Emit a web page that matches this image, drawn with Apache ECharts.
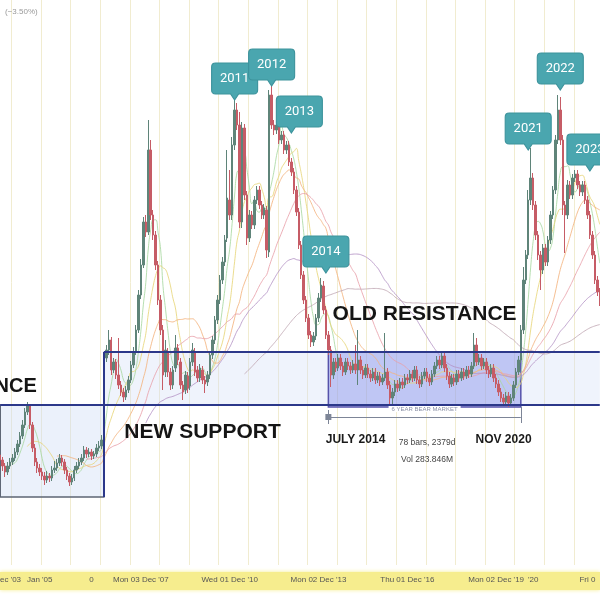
<!DOCTYPE html>
<html><head><meta charset="utf-8">
<script src="https://cdn.jsdelivr.net/npm/echarts@6/dist/echarts.min.js"></script>
<style>html,body{margin:0;padding:0;background:#fff}#c{width:600px;height:600px}</style>
</head><body><div id="c"></div>
<script>
// monthly bars, Mar 2003 .. Oct 2023
const categories = [];
for (let i = 0; i < 244; i++) { const k = 2 + i; categories.push((2003 + Math.floor(k / 12)) + '-' + String(k % 12 + 1).padStart(2, '0')); }

// [open, close, low, high]
const ohlc = [
[110,105,101,114],[105,99,94,108],[99,93,88,102],[93,99,90,103],[99,103,96,107],[103,107,100,111],[107,113,104,117],[113,121,110,125],[121,129,118,133],[129,140,126,145],
[140,153,137,157],[153,159,150,163],[159,140,136,161],[140,117,113,143],[117,103,99,121],[103,97,92,107],[97,93,89,101],[93,89,85,97],[89,85,80,93],[85,89,82,94],
[89,87,83,92],[87,95,84,99],[95,97,92,104],[97,102,94,106],[102,107,99,111],[107,103,99,110],[103,95,91,106],[95,89,85,98],[89,83,79,92],[83,87,80,91],
[87,95,84,99],[95,99,92,103],[99,103,96,107],[103,107,100,111],[107,115,104,119],[115,111,107,118],[111,113,108,117],[113,109,105,116],[109,111,106,114],[111,117,108,121],
[117,119,114,124],[119,125,116,130],
[125,207,120,212],[207,215,203,220],[215,225,210,235],[225,195,190,228],[195,203,192,207],[203,190,186,206],[190,180,176,227],[180,173,169,184],[173,168,163,177],[168,175,165,179],
[175,185,172,189],[185,200,182,204],[200,213,197,218],[213,235,210,240],[235,270,232,275],[270,300,266,306],[300,343,297,348],[343,333,328,350],[333,415,330,445],[415,350,345,425],
[350,330,325,355],[330,300,295,334],[300,265,260,304],[265,235,230,270],[235,190,175,240],[193,215,188,225],[213,193,188,217],[193,180,175,197],[180,195,176,199],[197,217,193,230],
[217,205,200,221],[203,180,176,207],[180,173,165,184],[175,190,171,194],[189,177,172,193],[179,203,175,207],[203,215,199,222],[213,193,189,217],[195,187,183,199],[187,197,183,201],
[195,185,181,199],[185,181,172,189],[183,190,179,194],[190,210,186,214],[210,225,206,229],[225,245,221,249],[245,265,241,270],[265,285,261,290],[285,303,281,308],[303,325,299,330],
[327,367,323,415],[365,350,345,395],[350,420,345,428],[420,455,415,465],
[455,440,435,462],[440,343,337,453],[343,437,337,443],[437,370,365,441],[370,327,320,374],[327,350,323,355],[350,340,336,354],[340,365,336,369],[365,375,361,379],[375,360,356,379],
[360,350,346,364],[350,357,346,361],[355,315,307,359],[313,470,308,475],[470,440,436,479],[440,435,430,445],[435,440,431,444],[438,425,421,442],[425,430,421,434],[430,415,411,434],
[415,420,411,424],[420,403,399,424],[403,393,389,407],[393,375,371,397],[375,353,349,379],[353,320,316,357],[320,290,286,324],[290,265,261,294],[265,247,243,269],[247,230,226,251],
[230,223,218,234],[223,229,219,233],[229,247,225,251],[247,267,243,272],[267,280,263,287],[279,255,251,284],[255,230,226,259],[230,215,210,234],
[215,190,178,219],[190,203,186,207],[203,197,193,207],[197,207,194,211],[207,199,195,211],[199,193,189,203],[193,203,190,207],[203,199,195,207],[199,195,191,203],[195,201,192,205],
[201,195,191,220],[195,205,180,235],[205,195,191,209],[195,190,186,199],[190,197,187,201],[197,191,187,201],[191,187,183,195],[187,193,184,197],[193,185,181,197],[185,189,182,193],
[189,183,179,193],[183,187,180,191],[187,193,184,232],[193,180,176,197],[180,167,160,184],[167,173,159,177],[173,181,169,185],[181,177,173,185],[177,183,174,187],[183,180,176,187],
[180,187,177,191],[187,185,181,191],[185,191,182,195],[191,187,183,195],[187,195,184,199],[195,185,181,199],[185,181,177,189],[181,189,178,193],[189,193,186,197],[193,187,183,197],
[187,183,179,191],[183,191,180,195],[191,199,188,203],[199,205,196,209],[205,200,196,209],[200,209,197,213],[209,197,193,212],[197,189,185,201],[189,181,177,193],[181,187,178,191],
[187,183,179,191],[183,191,180,195],[191,187,183,195],[187,193,184,197],[193,189,185,197],[189,195,186,199],[195,191,187,199],[191,199,188,203],[199,220,196,232],[220,203,199,227],
[203,207,200,211],[207,199,195,211],[199,203,196,207],[203,195,191,207],[195,191,187,199],[191,197,188,201],[197,187,183,201],[187,181,177,191],[181,173,169,185],[173,167,163,177],
[167,163,159,171],[163,169,160,173],[169,162,158,173],[162,167,159,171],[167,180,164,184],[180,193,177,197],[193,205,190,209],[205,235,202,240],
[235,285,231,298],[285,310,281,315],[310,365,306,375],[365,387,360,417],[387,360,355,392],[360,330,325,364],[330,310,305,334],[310,295,275,314],[295,317,291,321],[317,303,299,321],
[303,325,299,329],[325,350,321,354],[350,375,346,379],[375,425,371,430],[425,455,421,470],[455,425,420,468],[425,360,350,430],[360,350,312,364],[350,380,346,385],[380,370,366,384],
[370,387,366,391],[387,391,383,395],[391,380,376,395],[380,373,369,384],[373,380,369,384],[380,365,361,384],[365,350,346,369],[350,330,326,354],[330,310,306,334],[310,285,281,314],
[285,273,269,289],[273,263,259,277]
];

const tickIdx  = [3, 16, 37, 57, 93, 129, 165, 201, 216, 238];
const tickText = ["Dec '03", "Jan '05", "0", "Mon 03 Dec '07", "Wed 01 Dec '10", "Mon 02 Dec '13", "Thu 01 Dec '16", "Mon 02 Dec '19", "'20", "Fri 0"];

const maPeriods = [6, 12, 24, 36, 60, 100];
const maColors  = ['#a9d8a2', '#e8d67a', '#f3b47f', '#e9a1aa', '#b594c6', '#c2a9b5'];

// zones (index, price)
const supportLow = 160, supportHigh = 213, oldBoxBottom = 68, rangeBottom = 158;
const callouts = [
  {label: '2011', idx: 95,  price: 465, side: 'c'},
  {label: '2012', idx: 110, price: 479, side: 'c'},
  {label: '2013', idx: 118, price: 432, side: 'l'},
  {label: '2014', idx: 132, price: 292, side: 'c'},
  {label: '2021', idx: 214, price: 415, side: 'c'},
  {label: '2022', idx: 227, price: 475, side: 'c'},
  {label: '2023', idx: 239, price: 394, side: 'c'}
];

function sma(p) {
  return ohlc.map((_, i) => {
    if (i < p - 1) return null;
    let s = 0; for (let k = i - p + 1; k <= i; k++) s += ohlc[k][1];
    return +(s / p).toFixed(2);
  });
}

const bubbleC = 'path://M4,0L42,0Q46,0 46,4L46,27Q46,31 42,31L27,31L23,37L19,31L4,31Q0,31 0,27L0,4Q0,0 4,0Z';
const bubbleL = 'path://M4,0L42,0Q46,0 46,4L46,27Q46,31 42,31L19,31L15,37L11,31L4,31Q0,31 0,27L0,4Q0,0 4,0Z';

const font = 'Liberation Sans';
function txt(text, idx, price, size, weight, color, pos) {
  return {
    coord: [idx, price], symbol: 'rect', symbolSize: 1, itemStyle: {color: 'rgba(0,0,0,0)'},
    label: {show: true, formatter: text, position: pos || 'inside', distance: 0, fontSize: size, fontWeight: weight,
            color: color, fontFamily: font}
  };
}

const points = callouts.map(c => ({
  coord: [c.idx, c.price],
  symbol: c.side === 'l' ? bubbleL : bubbleC,
  symbolSize: [46, 37],
  symbolOffset: [c.side === 'l' ? 8 : 0, '-50%'],
  itemStyle: {color: '#4aa6af', borderColor: '#3d939c', borderWidth: 1},
  label: {show: true, formatter: c.label, color: '#fff', fontSize: 13, fontFamily: 'Roboto', offset: [0, -3], position: 'inside'}
}));
points.push(
  txt('OLD RESISTANCE', 172, 251, 21, 'bold', '#151515'),
  txt('NEW SUPPORT', 82, 133, 21, 'bold', '#151515'),
  txt('RESISTANCE', 15, 179, 20, 'bold', '#151515', 'left'),
  txt('JULY 2014', 144, 125, 12, 'bold', '#1a1a1a'),
  txt('NOV 2020', 204, 125, 12, 'bold', '#1a1a1a'),
  txt('78 bars, 2379d', 173, 122, 8.5, 'normal', '#444'),
  txt('Vol 283.846M', 173, 105, 8.5, 'normal', '#444')
);

const navy = {color: '#2c388a', width: 2, type: 'solid'};
const gray = {color: '#7d8597', width: 1, type: 'solid'};

const series = [
  {
    type: 'line', data: [], z: 1, silent: true,
    markArea: {
      silent: true,
      data: [
        [{xAxis: 0, yAxis: oldBoxBottom, itemStyle: {color: 'rgba(205,220,246,0.4)', borderColor: '#5d6574', borderWidth: 1.5}}, {xAxis: 42, yAxis: supportLow}],
        [{xAxis: 42, yAxis: supportLow, itemStyle: {color: 'rgba(208,220,246,0.35)', borderWidth: 0}}, {xAxis: 243, yAxis: supportHigh}],
        [{xAxis: 133, yAxis: rangeBottom, itemStyle: {color: 'rgba(112,126,232,0.38)', borderColor: '#5652aa', borderWidth: 1.5}}, {xAxis: 211, yAxis: supportHigh}]
      ]
    }
  }
];
maPeriods.forEach((p, k) => series.push({
  type: 'line', data: sma(p), z: 2, symbol: 'none', smooth: true, silent: true,
  lineStyle: {color: maColors[k], width: 1, opacity: 0.85}
}));
series.push({
  type: 'candlestick', data: ohlc, z: 3, barWidth: '80%',
  itemStyle: {color: '#5f8479', color0: '#c65c66', borderColor: '#5f8479', borderColor0: '#c65c66', borderWidth: 1},
  markLine: {
    silent: true, symbol: 'none', animation: false,
    label: {show: false},
    data: [
      [{coord: [0, supportLow], lineStyle: navy}, {coord: [243, supportLow]}],
      [{coord: [42, supportHigh], lineStyle: navy}, {coord: [243, supportHigh]}],
      [{coord: [42, oldBoxBottom], lineStyle: navy}, {coord: [42, supportHigh]}],
      [{coord: [133, 148], lineStyle: gray, symbol: ['none', 'arrow'], symbolSize: 6,
        label: {show: true, position: 'middle', formatter: '6 YEAR BEAR MARKET', fontSize: 6, color: '#8a90a6',
                backgroundColor: '#fff', padding: [0, 3], fontFamily: font}}, {coord: [211, 148]}],
      [{coord: [133, 155], lineStyle: gray}, {coord: [133, 141]}],
      [{coord: [211, 158], lineStyle: gray}, {coord: [211, 142]}]
    ]
  },
  markPoint: {silent: true, animation: false, data: points}
});

const chart = echarts.init(document.getElementById('c'), null, {renderer: 'canvas'});
chart.setOption({
  animation: false,
  backgroundColor: '#fff',
  title: {text: '(\u22123.50%)', left: 0, top: 3, textStyle: {fontSize: 8, color: '#9a9a9a', fontWeight: 'normal', fontFamily: font}},
  graphic: [{type: 'rect', left: 0, top: 572, z: -10, shape: {width: 600, height: 18},
             style: {fill: '#f6ed8e', shadowBlur: 4, shadowColor: '#f6ed8e'}}],
  grid: {left: -1, right: -1, top: 0, bottom: 35, outerBoundsMode: 'none', containLabel: false},
  xAxis: {
    type: 'category', data: categories, boundaryGap: true,
    axisLine: {show: false}, axisTick: {show: false},
    axisLabel: {interval: (i) => tickIdx.includes(i), formatter: (v, i) => tickText[tickIdx.indexOf(i)],
                fontSize: 8, color: '#555', margin: 11, fontFamily: font, hideOverlap: false},
    splitLine: {show: true, interval: (i) => i % 12 === 5, lineStyle: {color: '#f1ecd0', width: 1}}
  },
  yAxis: {type: 'value', min: 0, max: 565, show: false, splitLine: {show: false}},
  series: series
});
</script></body></html>
